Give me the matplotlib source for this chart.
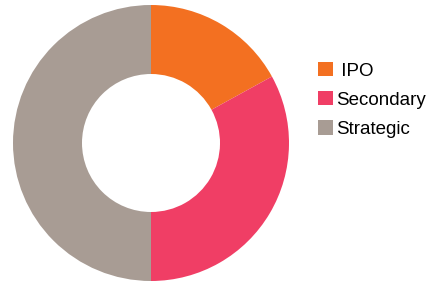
import matplotlib.pyplot as plt
from matplotlib.patches import Patch

# Deal type shares (percent of total)
labels = [" IPO", "Secondary", "Strategic"]
shares = [17, 33, 50]
colors = ["#F37021", "#F03E65", "#A89C94"]

plt.rcParams['font.family'] = ['Liberation Sans', 'DejaVu Sans']

fig = plt.figure(figsize=(4.28, 2.82), dpi=100)
# place the donut in pixels: center (151, 143), radius 138
ax = fig.add_axes([13 / 428, 1 / 282, 276 / 428, 276 / 282])
ax.pie(shares, colors=colors, startangle=90, counterclock=False, radius=1,
       wedgeprops=dict(width=0.5, edgecolor='none'))
ax.set_xlim(-1, 1)
ax.set_ylim(-1, 1)
ax.set_aspect('equal')
ax.axis('off')

handles = [Patch(facecolor=c, edgecolor='none') for c in colors]
fig.legend(handles, labels, loc='upper left', bbox_to_anchor=(318 / 428, 1 - 62 / 282),
           frameon=False, fontsize=13.5, handlelength=0.78, handleheight=0.78,
           handletextpad=0.2, labelspacing=0.62, borderaxespad=0, borderpad=0)

fig.savefig("out.png", dpi=100)
